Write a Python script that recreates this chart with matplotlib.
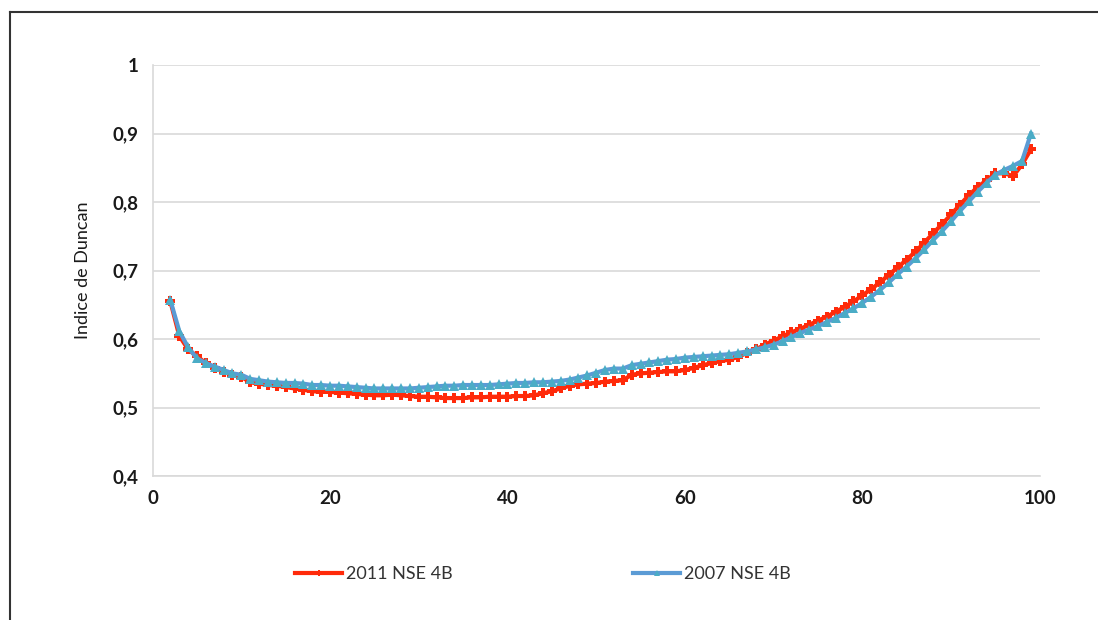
import matplotlib.pyplot as plt
from matplotlib.lines import Line2D

x = list(range(2, 100))

nse_2011 = [0.655, 0.605, 0.585, 0.575, 0.565, 0.558, 0.552, 0.548, 0.545, 0.537,
            0.535, 0.533, 0.532, 0.530, 0.528, 0.526, 0.524, 0.523, 0.523, 0.522,
            0.521, 0.520, 0.519, 0.518, 0.518, 0.519, 0.518, 0.517, 0.516, 0.516,
            0.515, 0.514, 0.514, 0.514, 0.515, 0.515, 0.516, 0.516, 0.516, 0.517,
            0.517, 0.518, 0.521, 0.524, 0.528, 0.532, 0.534, 0.535, 0.536, 0.538,
            0.539, 0.540, 0.548, 0.550, 0.551, 0.552, 0.553, 0.553, 0.555, 0.558,
            0.562, 0.565, 0.568, 0.570, 0.574, 0.580, 0.585, 0.592, 0.598, 0.604,
            0.610, 0.615, 0.621, 0.627, 0.633, 0.640, 0.647, 0.655, 0.664, 0.673,
            0.683, 0.694, 0.705, 0.716, 0.728, 0.741, 0.755, 0.768, 0.782, 0.796,
            0.810, 0.822, 0.832, 0.842, 0.842, 0.838, 0.855, 0.877]

nse_2007 = [0.657, 0.612, 0.588, 0.572, 0.565, 0.560, 0.555, 0.550, 0.548, 0.542,
            0.540, 0.538, 0.537, 0.536, 0.536, 0.535, 0.533, 0.533, 0.532, 0.532,
            0.531, 0.530, 0.529, 0.528, 0.528, 0.528, 0.528, 0.528, 0.529, 0.530,
            0.531, 0.532, 0.532, 0.533, 0.533, 0.533, 0.533, 0.534, 0.535, 0.536,
            0.536, 0.537, 0.537, 0.538, 0.539, 0.541, 0.544, 0.547, 0.551, 0.555,
            0.557, 0.557, 0.562, 0.564, 0.566, 0.568, 0.570, 0.571, 0.573, 0.574,
            0.575, 0.576, 0.577, 0.578, 0.580, 0.582, 0.585, 0.588, 0.592, 0.597,
            0.603, 0.609, 0.614, 0.619, 0.625, 0.631, 0.638, 0.645, 0.653, 0.662,
            0.672, 0.683, 0.695, 0.706, 0.718, 0.731, 0.745, 0.758, 0.772, 0.787,
            0.801, 0.815, 0.828, 0.840, 0.847, 0.853, 0.860, 0.900]

x_ticks = [0, 20, 40, 60, 80, 100]
y_ticks = [0.4, 0.5, 0.6, 0.7, 0.8, 0.9, 1.0]
y_labels = ['0,4', '0,5', '0,6', '0,7', '0,8', '0,9', '1']

plt.rcParams['font.family'] = ['Lato', 'DejaVu Sans']

fig = plt.figure(figsize=(10.98, 6.2), dpi=100)
ax = fig.add_axes([0.139, 0.232, 0.808, 0.663])

ax.plot(x, nse_2011, color='#ff2a0a', lw=3, marker='P', markersize=7,
        markeredgewidth=0, label='2011 NSE 4B', zorder=3)
ax.plot(x, nse_2007, color='#5b9bd5', lw=3, marker='^', markersize=7,
        markerfacecolor='#4bacc6', markeredgecolor='#4bacc6', markeredgewidth=0,
        label='2007 NSE 4B', zorder=4)

ax.set_xlim(0, 100)
ax.set_ylim(0.4, 1.0)
ax.set_xticks(x_ticks)
ax.set_yticks(y_ticks)
ax.set_yticklabels(y_labels)
ax.tick_params(length=0, labelsize=13.5, pad=10, colors='#1a1a1a')
for lab in ax.get_xticklabels() + ax.get_yticklabels():
    lab.set_fontweight('bold')

ax.grid(axis='y', color='#d9d9d9', lw=1.2)
ax.set_axisbelow(True)
for s in ['top', 'right']:
    ax.spines[s].set_visible(False)
for s in ['left', 'bottom']:
    ax.spines[s].set_color('#d9d9d9')
    ax.spines[s].set_linewidth(1.2)

ax.set_ylabel('Indice de Duncan', fontsize=13, color='#1a1a1a', labelpad=16)

ax.legend(loc='upper center', bbox_to_anchor=(0.44, -0.18), ncol=2, frameon=False,
          fontsize=13, handlelength=2.6, handletextpad=0.2, columnspacing=10,
          labelcolor='#333333', markerscale=0.6)

# border around the chart area
fig.add_artist(Line2D([10 / 1098, 1], [1 - 12 / 620, 1 - 12 / 620],
                      transform=fig.transFigure, color='#333333', lw=1.5))
fig.add_artist(Line2D([10 / 1098, 10 / 1098], [0, 1 - 12 / 620],
                      transform=fig.transFigure, color='#333333', lw=1.5))

fig.savefig('out.png', dpi=100)
